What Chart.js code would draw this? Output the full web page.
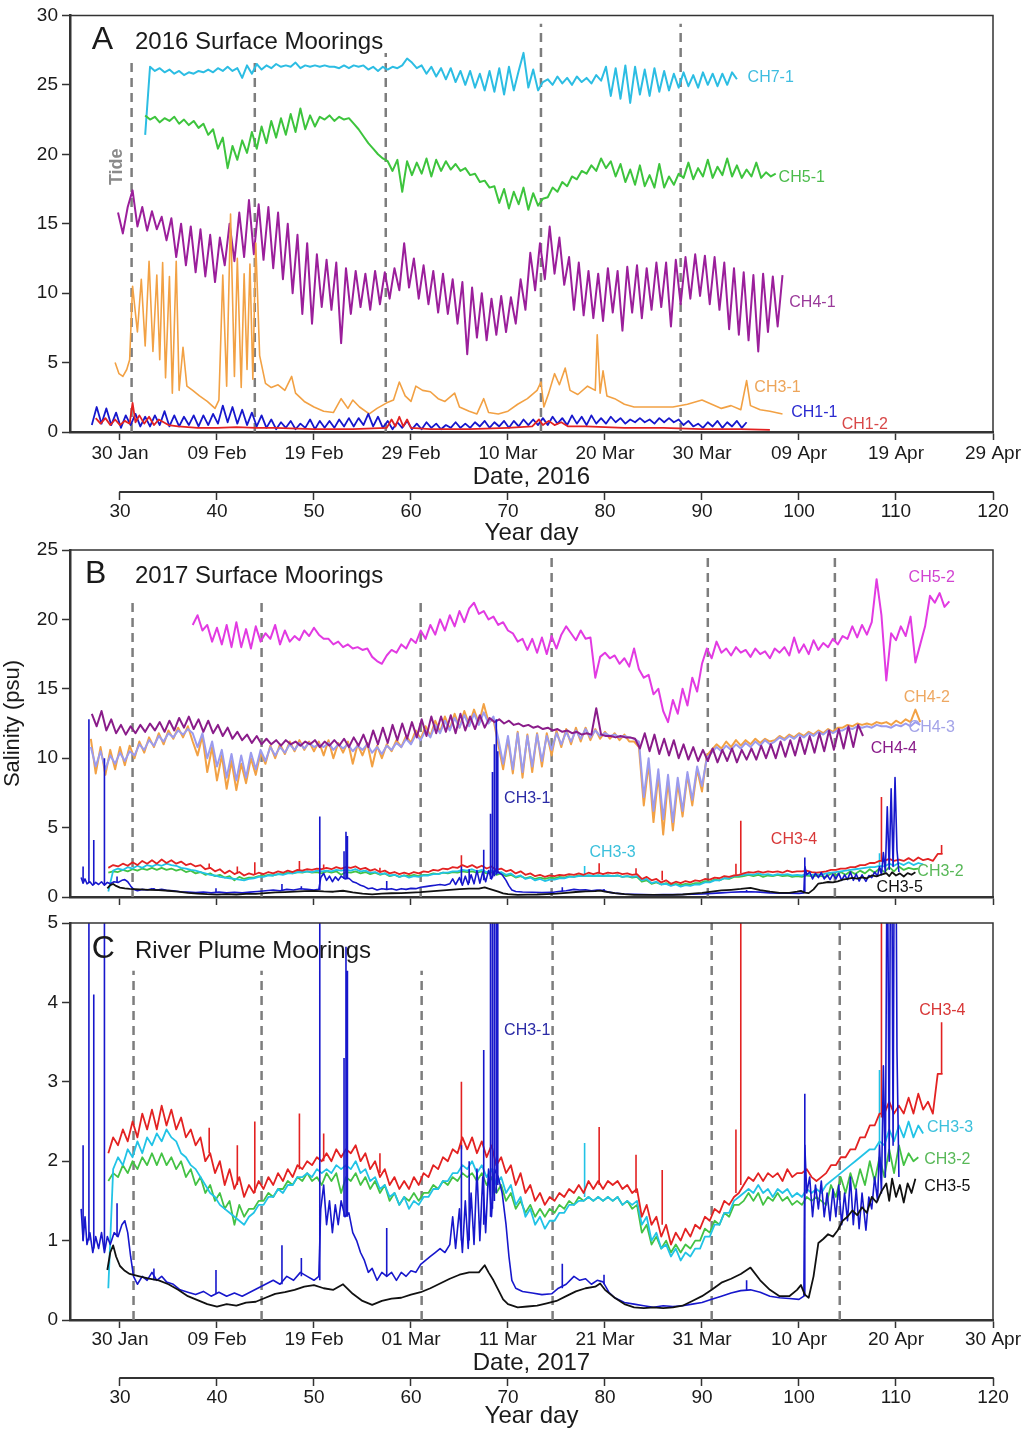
<!DOCTYPE html>
<html>
<head>
<meta charset="utf-8">
<script src="https://cdn.jsdelivr.net/npm/chart.js@4.4.1/dist/chart.umd.min.js"></script>
<style>
  html, body { margin: 0; padding: 0; background: #fff; }
  #page { position: relative; width: 1029px; height: 1432px; overflow: hidden; background: #fff; }
  #page canvas { position: absolute; left: 0; }
</style>
</head>
<body>
<div id="page">
  <canvas id="panelA" width="1029" height="550" style="top:0"></canvas>
  <canvas id="panelB" width="1029" height="390" style="top:530px"></canvas>
  <canvas id="panelC" width="1029" height="527" style="top:905px"></canvas>
</div>
<script>
'use strict';

/* ---- axis labels ---- */
const yearDays = [30, 40, 50, 60, 70, 80, 90, 100, 110, 120];
const dates2016 = ['30 Jan', '09 Feb', '19 Feb', '29 Feb', '10 Mar', '20 Mar', '30 Mar', '09 Apr', '19 Apr', '29 Apr'];
const dates2017 = ['30 Jan', '09 Feb', '19 Feb', '01 Mar', '11 Mar', '21 Mar', '31 Mar', '10 Apr', '20 Apr', '30 Apr'];
const ticksA = [0, 5, 10, 15, 20, 25, 30];
const ticksB = [0, 5, 10, 15, 20, 25];
const ticksC = [0, 1, 2, 3, 4, 5];

/* ---- tide markers (year day, top of dashed line) ---- */
const tideDayA = [31.2, 43.9, 57.4, 73.4, 87.8];
const tideTopA = [27.0, 27.0, 27.3, 29.4, 29.4];
const tideDayB = [31.3, 44.6, 61.0, 74.5, 90.6, 103.7];
const tideTopB = [21.6, 21.6, 21.6, 24.8, 24.8, 24.8];
const tideDayC = [31.4, 44.6, 61.1, 74.6, 91.0, 104.2];
const tideTopC = [4.4, 4.4, 4.4, 5, 5, 5];

/* ---- 2016 moorings: half-day samples (tidal high / low) ---- */
const ch71Start = 32.6;
const ch71Sal = [21.4,
  26.3,26.0,26.2,25.9,26.1,25.8,26.0,25.7,25.9,25.8,26.0,25.9,26.1,25.9,26.2,26.0,26.3,26.0,26.2,25.5,26.4,25.8,26.5,26.1,
  26.4,26.2,26.5,26.3,26.4,26.3,26.6,26.2,26.4,26.3,26.4,26.3,26.4,26.3,26.3,26.2,26.4,26.2,26.4,26.3,26.4,26.1,26.3,26.0,26.3,26.1,26.3,26.2,
  26.4,26.9,26.6,26.2,
  26.4,25.8,26.3,25.6,26.2,25.4,26.2,25.2,26.0,25.0,26.0,24.8,25.8,24.6,26.0,24.5,
  26.2,24.3,26.3,24.6,26.0,27.3,24.8,26.1,24.6,25.2,
  25.4,25.0,25.6,25.1,25.5,25.0,25.6,25.2,25.5,25.1,25.7,25.3,
  26.3,24.2,26.2,24.0,26.4,23.7,26.3,24.3,26.1,24.2,26.2,24.5,26.0,24.6,
  25.8,24.8,25.9,24.9,25.7,24.8,25.9,25.0,25.8,24.9,25.8,25.0,25.9,25.4];

const ch51Start = 32.6;
const ch51Sal = [22.8,22.5,22.7,22.3,22.6,22.4,22.7,22.2,22.5,22.1,22.4,21.9,22.2,
  21.4,21.8,20.4,21.2,19.0,20.6,
  19.6,21.0,20.1,21.6,20.4,22.0,
  20.8,22.4,21.2,22.6,21.4,22.9,21.6,23.3,21.8,22.8,22.0,22.7,
  22.5,22.8,22.4,22.7,22.5,22.6,
  22.2,21.8,21.3,20.8,20.4,20.0,19.7,19.5,
  18.8,19.6,17.3,19.5,18.5,19.4,18.6,19.7,18.4,19.6,18.8,19.5,18.9,19.3,
  18.8,19.0,18.5,18.6,18.0,18.1,17.6,17.7,
  16.5,17.5,16.1,17.3,16.4,17.6,16.0,17.2,16.3,16.8,
  16.9,17.6,17.3,18.0,17.7,18.4,18.2,18.8,18.6,19.2,18.8,19.7,19.0,19.5,
  18.4,19.3,18.0,18.9,17.8,19.2,17.7,18.5,17.6,19.3,17.6,18.4,17.8,18.6,
  18.3,19.4,18.2,19.0,18.4,19.6,18.3,19.1,18.5,19.7,18.4,19.2,18.3,18.9,18.4,19.4,18.3,18.7,18.4,18.6];

const ch41Start = 29.8;
const ch41Sal = [15.8,14.3,16.2,17.4,
  14.8,16.2,14.5,15.9,14.6,15.5,13.8,15.4,
  12.6,15.0,12.0,14.8,11.5,14.6,11.2,14.2,10.8,14.0,
  12.0,15.0,12.3,15.8,
  12.6,16.7,12.8,16.4,12.4,16.2,11.8,15.8,11.0,15.0,
  10.0,14.2,8.5,13.6,7.8,12.8,9.0,12.4,8.8,12.2,
  6.4,11.8,8.5,11.6,9.0,11.4,8.8,11.6,9.2,11.5,
  9.6,11.8,10.2,13.6,
  10.4,12.5,9.6,12.0,9.2,11.6,8.6,11.4,8.5,11.0,7.8,10.8,5.6,10.4,
  6.8,10.0,6.6,9.6,7.0,9.8,7.2,9.7,7.8,11.0,8.8,12.9,
  10.2,13.6,11.0,14.8,11.4,14.0,10.6,12.6,
  8.8,12.2,8.4,11.6,8.2,11.4,
  8.0,11.8,8.6,11.6,7.3,11.9,8.6,12.0,8.2,11.8,8.8,12.2,9.0,12.2,7.6,12.4,9.2,12.6,
  9.6,12.8,9.8,12.7,9.2,12.6,8.8,12.2,
  7.4,11.8,7.0,11.5,6.6,11.3,
  5.8,11.4,7.2,11.2,7.6,11.3];

const ch11Start = 27.1;
const ch11Sal = [0.5,1.8,0.6,1.7,
  0.5,1.4,0.3,1.2,0.5,1.3,0.4,1.1,0.4,1.2,0.5,1.5,0.4,1.2,0.4,1.1,0.5,1.2,0.4,1.2,0.5,1.3,
  0.6,1.9,0.7,1.8,0.6,1.6,0.5,1.4,0.4,1.2,
  0.3,0.9,0.2,0.7,0.3,0.8,0.2,0.6,0.3,0.9,0.2,0.8,0.3,0.8,0.3,0.9,0.4,1.0,0.4,1.0,
  0.5,1.3,0.4,1.1,
  0.3,0.8,0.2,0.7,0.3,0.8,0.2,0.6,0.2,0.7,0.3,0.6,0.2,0.5,0.3,0.7,0.3,0.6,0.3,0.7,
  0.4,0.8,0.3,0.7,0.4,0.8,0.3,0.8,0.4,0.9,0.5,0.9,0.5,1.0,
  0.5,1.1,0.6,1.0,0.5,1.2,0.6,1.1,0.5,1.2,0.6,1.0,0.6,1.1,
  0.7,1.0,0.6,0.9,0.7,1.0,0.7,0.9,0.6,1.0,0.7,1.0,0.7,0.9,
  0.5,0.8,0.4,0.6,0.3,0.7,0.4,0.8,0.3,0.7,0.4,0.8,0.3,0.7];

/* ---- 2016 moorings: irregular samples ---- */
const ch31aDay = [29.5,29.9,30.3,30.7,31.0,31.3,31.8,32.2,32.6,33.0,33.4,33.8,34.1,34.4,34.7,35.1,35.4,35.8,36.1,36.5,
  36.9,37.5,38.2,39.0,39.8,40.2,40.6,41.0,41.4,41.8,42.1,42.5,42.8,43.1,43.4,43.7,44.0,44.4,45.0,45.6,
  46.3,47.0,47.7,48.1,49.0,50.0,51.0,52.0,52.8,53.5,54.0,54.7,55.7,56.5,57.5,58.2,58.8,59.4,60.0,60.5,
  61.2,62.0,62.8,63.5,64.5,65.0,66.0,66.8,67.5,68.0,69.0,70.0,71.0,72.0,73.0,73.4,73.7,74.2,74.8,75.3,
  75.9,76.4,77.2,78.2,79.0,79.2,79.5,79.8,80.2,81.0,82.0,83.0,85.0,87.0,88.5,90.0,91.0,92.0,93.0,94.0,
  94.6,95.0,96.0,97.0,98.3];
const ch31aSal = [5.0,4.2,4.0,4.5,5.2,10.5,7.2,11.0,6.2,12.3,5.8,11.3,5.2,12.2,3.9,11.2,2.8,12.3,3.0,6.1,
  3.3,3.0,2.6,2.2,1.7,2.3,11.3,3.3,15.7,4.0,12.5,3.2,11.4,4.5,12.1,3.8,13.6,5.5,3.5,3.2,
  3.4,3.0,4.0,2.8,2.2,1.8,1.5,1.4,2.4,1.7,2.3,1.8,1.3,1.7,2.1,2.3,3.6,2.6,2.2,3.3,
  3.0,2.9,2.4,2.2,2.8,1.8,1.5,1.3,2.4,1.4,1.3,1.5,2.0,2.4,3.0,3.6,1.8,2.8,4.2,3.4,
  4.6,3.0,2.7,3.3,3.0,7.0,2.8,4.4,2.6,2.4,2.0,1.8,1.8,1.8,2.0,2.3,2.0,1.7,1.9,1.6,
  3.7,1.9,1.6,1.5,1.3];

const ch12Day = [27.5,28.0,28.5,29.0,29.5,30.0,30.5,31.0,31.3,31.6,32.0,32.5,33.0,33.5,34.0,35.0,36.0,38.0,40.0,42.0,
  44.0,46.0,50.0,54.0,57.5,58.0,58.4,58.8,59.2,59.6,60.0,62.0,66.0,70.0,72.5,73.2,73.6,74.2,74.8,75.5,
  76.2,78.0,82.0,86.0,90.0,94.0,97.0];
const ch12Sal = [1.0,0.6,1.0,0.5,0.9,0.5,0.8,0.6,2.1,0.7,1.2,0.6,1.1,0.5,0.9,0.5,0.4,0.3,0.3,0.35,
  0.3,0.3,0.2,0.2,0.3,0.9,0.4,1.1,0.4,0.9,0.3,0.2,0.2,0.3,0.4,0.9,0.5,0.8,0.5,0.7,
  0.4,0.4,0.3,0.3,0.2,0.2,0.15];

/* ---- 2017 surface moorings: half-day samples ---- */
const ch52Start = 37.5;
const ch52Sal = [19.6,20.3,19.2,19.6,18.4,19.4,18.2,19.6,18.0,19.8,18.0,19.3,17.9,19.5,18.4,
  19.0,18.6,19.6,18.2,19.2,18.4,
  18.8,18.5,19.2,18.8,19.4,18.9,
  18.6,18.6,18.2,18.4,18.0,18.2,17.9,18.0,17.8,17.9,
  17.3,17.0,16.8,17.4,
  17.8,17.6,18.2,17.9,18.6,18.3,
  19.2,18.6,19.6,18.9,20.0,19.2,20.3,19.5,20.6,19.8,20.8,21.2,
  20.4,20.6,20.0,20.2,19.6,19.8,
  19.2,19.0,18.4,18.6,
  17.8,18.6,17.6,18.7,17.5,18.8,17.9,18.9,
  19.5,19.0,18.5,19.2,18.6,18.7,
  15.8,17.3,17.6,17.2,
  17.4,16.8,17.2,16.6,17.9,16.4,
  15.8,16.0,14.6,15.0,13.4,12.6,
  14.2,13.2,15.0,13.8,15.8,14.8,16.8,17.9,
  17.2,18.4,17.6,17.9,17.4,18.0,17.6,17.8,17.3,17.9,17.5,17.7,17.2,17.9,17.6,18.0,
  17.4,18.7,17.6,18.2,17.5,18.5,17.8,18.3,18.0,18.6,18.2,18.8,
  18.6,19.5,18.7,19.6,18.9,19.8,
  22.9,20.3,15.6,19.0,
  18.5,19.5,18.8,20.2,
  16.9,18.2,19.5,21.7,
  21.2,21.9,20.9,21.3];

const ch44Start = 27.1;
const ch44Sal = [13.2,12.3,13.4,12.0,12.8,11.8,12.4,
  11.7,12.3,11.8,12.4,11.9,12.5,12.0,12.6,
  11.9,12.7,12.0,12.9,12.2,13.0,12.1,12.8,11.9,12.7,11.8,12.4,
  11.6,12.2,11.4,11.9,11.3,11.7,11.1,11.6,11.0,11.4,
  11.0,11.3,10.9,11.3,11.0,11.2,10.9,11.2,11.0,11.3,10.8,11.2,10.9,11.3,10.9,11.4,10.8,11.5,10.9,11.7,
  10.8,12.0,11.0,12.2,11.1,12.4,11.3,12.5,11.4,12.6,
  11.5,12.8,11.6,13.0,11.8,13.0,11.9,13.1,11.8,13.2,12.0,13.0,12.1,13.1,12.2,12.9,
  12.6,12.8,12.5,12.7,12.4,12.5,12.3,12.4,12.2,12.3,12.1,12.2,12.0,12.1,11.9,12.0,11.8,11.9,11.7,11.8,
  11.7,13.6,11.7,
  11.6,11.6,11.5,11.6,11.5,11.5,11.4,
  10.7,11.8,10.5,11.7,10.3,11.4,10.2,11.3,10.0,11.0,9.9,10.8,9.8,10.6,
  9.8,10.7,9.7,10.6,9.8,10.7,9.7,10.6,9.9,10.7,
  9.9,10.9,10.0,11.0,10.0,11.2,10.1,11.3,10.2,11.5,10.3,11.6,10.4,11.8,10.5,12.0,10.6,12.1,10.7,12.3,10.8,12.4,11.6];

const ch43Start = 27.0;
const ch43Sal = [10.8,9.4,10.5,9.2,10.2,9.6,10.4,9.8,10.5,
  10.2,11.0,10.6,11.3,10.9,11.6,11.2,11.8,
  11.5,12.0,11.7,12.1,11.8,
  10.8,11.8,10.0,11.2,9.4,
  10.6,8.6,10.3,8.4,10.2,8.6,
  10.4,9.2,10.6,9.8,10.8,10.2,
  10.8,10.4,11.0,10.6,11.1,10.7,11.1,10.8,
  11.0,10.8,11.1,10.6,11.0,10.7,11.0,10.5,10.9,10.6,11.0,10.4,10.8,10.3,
  10.9,10.6,11.1,10.8,11.4,11.0,11.7,11.3,
  12.0,11.5,12.4,11.8,12.7,12.0,12.9,12.2,13.1,12.3,13.2,12.4,13.3,12.5,13.0,
  11.4,9.6,11.6,
  9.2,11.8,9.0,11.6,9.4,11.7,9.8,11.6,
  10.6,11.8,11.0,11.9,11.2,12.0,11.4,12.1,11.5,12.0,
  11.6,11.8,11.6,11.7,11.5,11.6,11.5,11.4,11.2,
  7.2,10.0,6.2,9.2,5.6,
  8.8,5.4,8.6,6.2,9.0,7.0,9.4,8.0,10.0,
  10.4,10.8,10.5,10.9,10.6,11.0,10.7,11.1,10.8,11.2,10.9,11.3,11.0,
  11.2,11.5,11.3,11.6,11.4,11.7,11.5,11.8,11.6,11.9,11.7,12.0,11.8,12.0,
  12.0,12.2,12.1,12.3,12.2,12.3,
  12.2,12.4,12.3,12.3,12.2,12.4,12.3,12.5,12.3,12.6,12.4];

const ch42Start = 27.0;
const ch42Sal = [11.4,8.9,10.8,8.8,10.6,9.2,10.8,9.5,10.9,
  10.0,11.2,10.4,11.5,10.8,11.8,11.0,12.0,
  11.4,12.2,11.5,12.3,11.2,
  10.2,11.6,9.0,10.8,8.4,
  10.2,7.8,9.8,7.7,9.6,8.2,
  10.0,8.8,10.4,9.6,10.9,10.0,
  11.0,10.3,11.2,10.5,11.3,10.6,11.2,10.5,
  11.2,10.2,11.3,10.0,11.1,10.4,11.2,9.6,11.0,10.2,11.1,9.4,10.9,10.0,
  11.0,10.5,11.3,10.8,11.6,11.1,12.0,11.4,
  12.3,11.6,12.7,11.9,13.0,12.1,13.2,12.2,13.4,12.4,13.5,12.5,13.9,12.6,12.8,
  11.0,9.2,11.4,
  8.9,11.9,8.6,11.7,9.0,11.8,9.4,11.8,
  10.2,12.0,10.8,12.1,11.0,12.2,11.2,12.2,11.3,12.1,
  11.4,11.9,11.4,11.8,11.3,11.7,11.2,11.2,10.8,
  6.6,9.6,5.4,8.8,4.5,
  8.4,4.8,8.2,5.8,8.8,6.6,9.2,7.6,10.2,
  10.6,11.0,10.7,11.2,10.8,11.3,10.9,11.3,11.0,11.4,11.1,11.4,11.2,
  11.3,11.6,11.4,11.7,11.5,11.8,11.6,11.9,11.7,12.0,11.8,12.1,11.9,12.2,
  12.2,12.4,12.3,12.5,12.4,12.5,
  12.4,12.6,12.5,12.6,12.4,12.7,12.5,12.8,12.6,13.5,12.6];

/* ---- 2017 river plume moorings (CH3-x), shown in panels B and C ---- */
const ch34Start = 28.8;
const ch34Sal = [2.1,2.3,2.2,2.4,2.25,2.5,2.3,2.6,2.4,2.65,
  2.4,2.7,2.45,2.65,
  2.4,2.55,2.3,2.4,2.2,2.3,
  2.0,2.1,1.85,2.0,1.7,1.9,1.65,1.8,1.55,1.7,
  1.6,1.75,1.65,1.8,1.7,1.85,1.75,1.9,1.8,1.95,
  1.9,2.0,1.95,2.05,2.0,2.1,2.0,2.15,2.05,2.15,2.1,2.2,
  2.0,2.1,1.9,2.0,1.8,1.9,
  1.7,1.8,1.65,1.75,1.65,1.8,1.7,1.85,
  1.8,1.95,1.9,2.05,2.0,2.15,
  2.1,2.3,2.15,2.3,
  2.1,2.25,2.05,2.2,1.95,2.05,
  1.85,1.95,1.7,1.85,1.6,1.7,1.5,1.6,1.45,1.55,
  1.5,1.6,1.55,1.65,1.6,1.7,1.6,1.75,1.65,1.75,
  1.65,1.75,1.7,1.75,1.65,1.7,1.6,1.65,
  1.3,1.45,1.2,1.3,1.05,1.2,
  0.95,1.1,1.0,1.15,1.05,1.2,
  1.15,1.3,1.25,1.4,1.35,1.5,1.45,1.55,1.6,
  1.7,1.8,1.75,1.85,1.75,1.85,1.8,1.85,1.75,1.9,1.8,1.85,
  1.85,1.9,1.8,1.75,1.8,
  1.85,1.95,1.95,2.05,2.05,2.15,2.15,2.3,2.3,2.45,2.45,2.6,
  2.6,2.75,2.6,2.7,2.6,
  2.8,2.6,2.85,2.65,2.75,2.6,3.1,
  3.1];
const ch34SpikeDay = [39.2, 42.1, 43.9, 48.5, 51.0, 56.8, 65.2, 79.4, 83.2, 85.9, 93.5, 94.0, 108.5, 114.7];
const ch34SpikeLo = [2.1, 1.7, 1.6, 1.9, 2.0, 1.85, 2.15, 1.7, 1.6, 1.2, 1.6, 1.7, 2.55, 3.1];
const ch34SpikeHi = [2.42, 2.2, 2.5, 2.6, 2.35, 2.1, 3.0, 2.43, 2.08, 1.89, 2.4, 5.5, 7.2, 3.75];

const ch33Start = 28.8;
const ch33Sal = [0.4,
  1.9,2.05,1.95,2.15,2.05,2.25,2.1,2.3,2.2,
  2.35,2.25,2.4,2.3,
  2.25,2.1,2.05,1.95,1.9,1.8,
  1.7,1.6,1.55,1.45,1.4,1.35,1.3,1.25,1.2,1.3,
  1.35,1.45,1.45,1.55,1.55,1.65,1.6,1.7,1.7,1.8,
  1.8,1.85,1.8,1.9,1.85,1.9,1.85,1.95,1.9,1.95,1.9,2.0,
  1.85,1.9,1.75,1.8,1.65,1.7,
  1.55,1.6,1.45,1.55,1.4,1.5,1.45,1.55,
  1.55,1.65,1.65,1.75,1.75,1.85,
  1.85,1.95,1.9,2.0,
  1.85,1.95,1.8,1.9,1.7,1.8,
  1.6,1.7,1.45,1.55,1.3,1.4,1.2,1.3,1.15,1.25,
  1.25,1.35,1.35,1.45,1.45,1.5,1.5,1.55,1.5,1.55,
  1.5,1.55,1.5,1.55,1.45,1.5,1.45,1.5,
  1.2,1.3,1.0,1.1,0.9,0.95,
  0.8,0.9,0.75,0.85,0.8,0.9,
  0.9,1.05,1.05,1.2,1.2,1.35,1.35,1.5,1.55,
  1.6,1.65,1.6,1.7,1.6,1.65,1.55,1.65,1.6,1.65,1.55,1.6,
  1.55,1.65,1.6,1.65,1.6,
  1.7,1.75,1.8,1.85,1.9,1.95,2.0,2.05,2.1,2.15,2.15,2.25,
  2.2,2.4,2.25,2.45,2.3,
  2.5,2.3,2.45,2.35];
const ch33SpikeDay = [77.9, 108.3];
const ch33SpikeLo = [1.55, 2.2];
const ch33SpikeHi = [2.23, 3.15];

const ch32Start = 28.8;
const ch32Sal = [1.75,1.85,1.8,1.95,1.85,2.0,1.9,2.05,1.95,2.1,
  1.95,2.1,1.95,2.05,
  1.9,2.0,1.8,1.9,1.7,1.8,
  1.6,1.7,1.5,1.6,1.4,1.5,1.2,1.45,1.3,1.4,
  1.4,1.5,1.5,1.6,1.55,1.65,1.65,1.75,1.7,1.8,
  1.75,1.85,1.75,1.8,1.7,1.85,1.75,1.85,1.6,1.8,1.75,1.85,
  1.7,1.8,1.65,1.75,1.6,1.7,
  1.5,1.6,1.45,1.55,1.5,1.6,1.5,1.6,
  1.6,1.7,1.65,1.75,1.7,1.8,
  1.75,1.85,1.8,1.85,
  1.75,1.85,1.7,1.8,1.6,1.7,
  1.5,1.6,1.4,1.5,1.35,1.45,1.3,1.4,1.3,1.4,
  1.35,1.45,1.4,1.5,1.45,1.55,1.5,1.55,1.5,1.55,
  1.5,1.55,1.5,1.55,1.45,1.5,1.4,1.45,
  1.1,1.2,0.95,1.05,0.9,1.0,
  0.85,0.95,0.85,0.95,0.9,1.0,
  1.0,1.15,1.1,1.25,1.2,1.35,1.3,1.45,1.45,
  1.5,1.6,1.5,1.6,1.45,1.55,1.5,1.6,1.5,1.55,1.45,1.5,
  1.45,1.55,1.5,1.55,1.5,
  1.45,1.7,1.55,1.8,1.6,1.85,1.65,1.9,1.7,2.0,1.75,2.05,
  1.8,2.15,1.85,2.2,1.95,
  2.1,2.0,2.05];

const ch35Day = [28.7,29.0,29.3,29.6,30.0,30.5,31.0,
  32,33,34,35,36,37,38,39,40,41,42,43,44,45,46,47,48,49,50,51,52,53,54,55,56,57,58,59,60,61,62,63,64,65,66,67,
  67.6,68.0,68.5,69.0,69.5,70.0,
  71,72,73,74,75,76,77,78,79,79.5,
  80,81,82,83,84,85,86,87,88,89,90,91,92,93,94,95,96,97,98,99,
  99.8,100.2,100.6,101.0,101.5,102.0,102.5,103.0,103.5,104.0,104.5,105.0,105.5,106.0,106.5,107.0,107.5,108.0,108.5,109.0,
  109.3,109.6,110.0,110.4,110.8,111.2,111.6,112.0];
const ch35Sal = [0.63,0.85,0.94,0.8,0.68,0.62,0.58,
  0.55,0.52,0.5,0.45,0.38,0.3,0.25,0.2,0.17,0.2,0.18,0.22,0.23,0.28,0.33,0.35,0.38,0.42,0.44,0.4,0.38,0.45,0.33,0.24,0.19,0.24,0.27,0.28,0.32,0.35,0.4,0.46,0.52,0.57,0.6,0.6,
  0.69,0.6,0.5,0.38,0.26,0.2,
  0.16,0.17,0.18,0.21,0.24,0.3,0.36,0.4,0.42,0.46,
  0.38,0.28,0.2,0.16,0.15,0.16,0.15,0.16,0.18,0.24,0.3,0.38,0.47,0.52,0.58,0.66,0.5,0.38,0.3,0.3,
  0.38,0.44,0.32,0.28,0.55,0.97,1.02,1.08,1.05,1.13,1.25,1.3,1.38,1.32,1.42,1.35,1.55,1.48,1.62,1.72,
  1.5,1.78,1.55,1.7,1.48,1.72,1.6,1.78];

const ch31bDay = [26.0,26.2,26.4,26.6,26.9,27.2,27.5,27.8,28.1,28.4,28.7,29.0,29.4,29.8,30.2,30.5,30.8,31.1,31.4,31.8,
  32.3,32.8,33.3,33.8,34.3,34.8,35.5,36.2,37.0,37.8,38.6,39.4,40.2,41.0,41.8,42.6,43.4,44.2,45.0,45.8,
  46.5,47.2,47.9,48.6,49.3,50.0,50.5,50.7,51.0,51.3,51.6,51.9,52.2,52.5,52.8,53.2,53.6,54.0,54.4,54.8,
  55.2,55.6,56.0,56.5,57.0,57.5,58.0,58.5,59.0,59.5,60.0,60.5,61.0,61.5,62.0,62.5,63.0,63.5,64.0,64.3,
  64.6,65.0,65.3,65.6,65.9,66.2,66.5,66.8,67.1,67.4,67.7,68.0,68.3,68.6,69.0,69.4,69.8,70.1,70.4,70.8,
  71.5,72.5,73.5,74.5,75.2,76.0,76.8,77.4,78.0,78.6,79.2,79.8,80.4,81.0,82.0,83.0,84.0,85.0,86.0,87.0,
  88.0,89.0,90.0,91.0,92.0,93.0,94.0,95.0,96.0,97.0,98.0,99.0,100.0,100.5,100.6,100.8,101.1,101.4,101.7,102.0,
  102.3,102.6,102.9,103.2,103.5,103.8,104.1,104.4,104.7,105.0,105.3,105.6,105.9,106.2,106.5,106.9,107.2,107.5,107.8,108.1,
  108.3,108.5,108.7,108.9,109.1,109.3,109.5,109.7,109.9,110.1,110.3];
const ch31bSal = [1.4,1.0,1.3,0.95,1.1,0.85,1.05,0.9,1.1,0.85,1.05,0.95,1.1,1.05,1.2,1.25,1.1,0.8,0.55,0.45,
  0.55,0.5,0.6,0.5,0.55,0.48,0.45,0.38,0.35,0.32,0.36,0.3,0.35,0.3,0.34,0.3,0.35,0.4,0.45,0.5,
  0.45,0.55,0.5,0.6,0.55,0.5,0.55,1.4,1.7,1.2,1.5,1.1,1.45,1.2,1.5,1.3,1.35,1.1,1.0,0.85,
  0.75,0.6,0.65,0.5,0.6,0.55,0.6,0.5,0.6,0.55,0.62,0.6,0.7,0.75,0.8,0.85,0.9,0.85,0.95,1.3,
  0.9,1.4,0.85,1.5,0.9,1.6,0.95,1.9,1.0,1.8,1.1,1.9,1.3,1.9,1.8,1.6,1.2,0.8,0.5,0.4,
  0.36,0.34,0.32,0.33,0.4,0.45,0.55,0.5,0.52,0.45,0.5,0.48,0.35,0.28,0.22,0.2,0.18,0.16,0.18,0.17,
  0.18,0.2,0.22,0.26,0.3,0.34,0.37,0.38,0.35,0.3,0.28,0.27,0.26,0.3,2.2,1.6,1.8,1.3,1.7,1.4,
  1.75,1.3,1.6,1.25,1.65,1.3,1.7,1.2,1.6,1.25,1.8,1.2,1.65,1.15,1.6,1.13,1.55,1.4,1.8,1.5,
  2.2,1.6,3.2,1.8,6.5,2.0,7.8,2.2,8.6,3.4,1.8];
const ch31bSpikeDay = [26.2,26.8,27.3,28.4,29.7,33.5,39.9,46.7,48.7,50.6,53.1,53.3,53.45,57.5,65.2,66.0,67.5,68.2,68.4,68.6,68.8,68.95,75.6,79.9,94.6,100.6];
const ch31bSpikeLo = [1.0,1.0,0.9,0.9,1.05,0.5,0.33,0.45,0.55,0.5,1.3,1.3,1.3,0.55,1.0,1.0,1.2,1.3,1.4,1.5,1.6,1.7,0.4,0.45,0.37,0.3];
const ch31bSpikeHi = [2.2,12.8,4.1,10.0,1.47,0.65,0.63,0.94,0.78,5.8,3.3,4.7,4.4,1.16,2.2,2.0,3.4,6.0,9.0,11.0,12.8,10.5,0.71,0.57,0.5,2.85];

/* ---- style ---- */
const FONT = "'Liberation Sans', Arial, Helvetica, sans-serif";
const INK = '#1a1a1a';
const AXIS = '#333';
const TIDE = '#7d7d7d';
const DAY_MIN = 24.85, DAY_MAX = 120;
const COL = {
  ch71: '#2cbde3', ch51: '#3dc43d', ch41: '#9b1f9b', orange: '#f2a144', blue: '#1717cc', red: '#e32222',
  ch52: '#e23ae2', ch43: '#9b9bee', ch44: '#8a1c8a', ch32: '#44c244', ch33: '#22c3e6', ch35: '#111'
};

Chart.defaults.font.family = FONT;
Chart.defaults.color = INK;

/* ---- dataset helpers ---- */
const halfDay = (start, vals) => vals.map((v, i) => ({ x: start + i * 0.5, y: v }));
const paired = (days, vals) => days.map((d, i) => ({ x: d, y: vals[i] }));
const spikes = (days, lo, hi) => days.flatMap((d, i) => [{ x: d, y: lo[i] }, { x: d, y: hi[i] }, { x: d, y: null }]);
const verticals = (days, tops) => days.flatMap((d, i) => [{ x: d, y: 0 }, { x: d, y: tops[i] }, { x: d, y: null }]);

function line(data, color, width) {
  return {
    data, borderColor: color, borderWidth: width || 2, pointRadius: 0, tension: 0,
    fill: false, spanGaps: false, borderJoinStyle: 'round', xAxisID: 'x', yAxisID: 'y'
  };
}
const dashed = (data) => ({ ...line(data, TIDE, 2.5), borderDash: [9, 6], borderJoinStyle: 'miter' });

/** The five CH3-x river plume series (shared by panels B and C), top-most first. */
function plumeSets() {
  return [
    line(paired(ch35Day, ch35Sal), COL.ch35, 1.8),
    line(paired(ch31bDay, ch31bSal), COL.blue, 1.6),
    line(spikes(ch31bSpikeDay, ch31bSpikeLo, ch31bSpikeHi), COL.blue, 1.6),
    line(halfDay(ch34Start, ch34Sal), COL.red, 1.8),
    line(spikes(ch34SpikeDay, ch34SpikeLo, ch34SpikeHi), COL.red, 1.6),
    line(halfDay(ch33Start, ch33Sal), COL.ch33, 1.8),
    line(spikes(ch33SpikeDay, ch33SpikeLo, ch33SpikeHi), COL.ch33, 1.6),
    line(halfDay(ch32Start, ch32Sal), COL.ch32, 1.8)
  ];
}

/* ---- plugins ---- */
const frame = {
  id: 'frame',
  afterDatasetsDraw(chart) {
    const { ctx, chartArea: a } = chart;
    ctx.save();
    ctx.strokeStyle = AXIS;
    ctx.lineWidth = 1.5;
    ctx.beginPath();
    ctx.moveTo(a.left, a.top);
    ctx.lineTo(a.right, a.top);
    ctx.lineTo(a.right, a.bottom);
    ctx.stroke();
    ctx.restore();
  }
};

/** Year-day axis line starts at the first year-day tick, not at the plot edge. */
const yearDayLine = {
  id: 'yearDayLine',
  afterDraw(chart) {
    const s = chart.scales.xd;
    if (!s || !s.options.display) return;
    const { ctx } = chart;
    ctx.save();
    ctx.strokeStyle = AXIS;
    ctx.lineWidth = 2;
    ctx.beginPath();
    ctx.moveTo(s.getPixelForValue(yearDays[0]) - 0.75, s.top);
    ctx.lineTo(s.right + 0.75, s.top);
    ctx.stroke();
    ctx.restore();
  }
};

/** Panel letters, titles and series names placed in data coordinates. */
function annotate(labels) {
  return {
    id: 'annotate',
    afterDraw(chart) {
      const { ctx, scales: { x, y } } = chart;
      labels.forEach((t) => {
        ctx.save();
        ctx.font = `${t.weight || 'normal'} ${t.size || 16}px ${FONT}`;
        ctx.fillStyle = t.color || INK;
        ctx.textAlign = t.rotate ? 'center' : 'left';
        ctx.textBaseline = t.base || 'middle';
        ctx.translate(x.getPixelForValue(t.day), y.getPixelForValue(t.val));
        if (t.rotate) ctx.rotate(-Math.PI / 2);
        ctx.fillText(t.text, 0, 0);
        ctx.restore();
      });
    }
  };
}

/* ---- panel builder ---- */
function panel(id, o) {
  const dayTicks = (s) => { s.ticks = yearDays.map((v) => ({ value: v })); };
  const tickGrid = { drawOnChartArea: false, drawTicks: true, tickLength: 8, tickWidth: 1.5, tickColor: AXIS };
  const title = (text, pb) => (text
    ? { display: true, text, color: INK, font: { size: 24 }, padding: { top: 0, bottom: pb } }
    : { display: false });
  return new Chart(document.getElementById(id), {
    type: 'line',
    data: { datasets: o.datasets },
    options: {
      responsive: false, animation: false, events: [],
      layout: { padding: { top: o.padTop, right: 36, bottom: 0, left: 0 } },
      plugins: { legend: { display: false }, tooltip: { enabled: false } },
      scales: {
        x: {
          type: 'linear', position: 'bottom', min: DAY_MIN, max: DAY_MAX,
          afterBuildTicks: dayTicks, afterFit: (s) => { s.height = o.dateHeight; },
          grid: tickGrid, border: { display: true, color: AXIS, width: 2.5 },
          ticks: {
            color: INK, font: { size: 19 }, padding: o.datePad || 0, maxRotation: 0, autoSkip: false,
            callback: (v, i) => (o.dateLabels ? o.dateLabels[i] : '')
          },
          title: title(o.dateTitle, 0)
        },
        xd: {
          type: 'linear', position: 'bottom', display: !!o.yearHeight, min: DAY_MIN, max: DAY_MAX,
          afterBuildTicks: dayTicks, afterFit: (s) => { s.height = o.yearHeight; },
          grid: tickGrid, border: { display: false },
          ticks: { color: INK, font: { size: 19 }, padding: 0, maxRotation: 0, autoSkip: false },
          title: title('Year day', o.yearPad || 1)
        },
        y: {
          type: 'linear', min: 0, max: o.yTicks[o.yTicks.length - 1],
          afterBuildTicks: (s) => { s.ticks = o.yTicks.map((v) => ({ value: v })); },
          afterFit: (s) => { s.width = 70; },
          grid: tickGrid, border: { display: true, color: AXIS, width: 2.5 },
          ticks: { color: INK, font: { size: 19 }, padding: 4 },
          title: o.yTitle
            ? { display: true, text: o.yTitle, color: INK, font: { size: 22 }, padding: { top: 0, bottom: 0 } }
            : { display: false }
        }
      }
    },
    plugins: [frame, yearDayLine, annotate(o.labels)]
  });
}

/* ---- A: 2016 surface moorings ---- */
panel('panelA', {
  padTop: 15, yTicks: ticksA, dateLabels: dates2016, dateTitle: 'Date, 2016',
  dateHeight: 60, datePad: 2, yearHeight: 58, yearPad: 2,
  datasets: [
    line(paired(ch12Day, ch12Sal), COL.red, 1.8),
    line(halfDay(ch11Start, ch11Sal), COL.blue, 1.8),
    line(paired(ch31aDay, ch31aSal), COL.orange, 1.6),
    line(halfDay(ch41Start, ch41Sal), COL.ch41, 2),
    line(halfDay(ch51Start, ch51Sal), COL.ch51, 2),
    line(halfDay(ch71Start, ch71Sal), COL.ch71, 2),
    dashed(verticals(tideDayA, tideTopA))
  ],
  labels: [
    { text: 'A', day: 27.1, val: 27.6, size: 32, base: 'alphabetic' },
    { text: '2016 Surface Moorings', day: 31.55, val: 27.6, size: 24, base: 'alphabetic' },
    { text: 'Tide', day: 29.7, val: 19.1, size: 18, weight: 'bold', color: '#8a8a8a', rotate: true },
    { text: 'CH7-1', day: 94.7, val: 25.5, color: '#3ebde0' },
    { text: 'CH5-1', day: 97.9, val: 18.3, color: '#4cbc4c' },
    { text: 'CH4-1', day: 99.0, val: 9.3, color: '#9a3a9a' },
    { text: 'CH3-1', day: 95.4, val: 3.2, color: '#eda55a' },
    { text: 'CH1-1', day: 99.2, val: 1.4, color: '#2a2ad0' },
    { text: 'CH1-2', day: 104.4, val: 0.5, color: '#d84848' }
  ]
});

/* ---- B: 2017 surface moorings ---- */
panel('panelB', {
  padTop: 20, yTicks: ticksB, dateLabels: null, dateTitle: null,
  dateHeight: 23, yearHeight: 0, yTitle: 'Salinity (psu)',
  datasets: [
    ...plumeSets(),
    line(halfDay(ch44Start, ch44Sal), COL.ch44, 2),
    line(halfDay(ch43Start, ch43Sal), COL.ch43, 2),
    line(halfDay(ch42Start, ch42Sal), COL.orange, 2),
    line(halfDay(ch52Start, ch52Sal), COL.ch52, 2),
    dashed(verticals(tideDayB, tideTopB))
  ],
  labels: [
    { text: 'B', day: 26.4, val: 22.6, size: 32, base: 'alphabetic' },
    { text: '2017 Surface Moorings', day: 31.55, val: 22.6, size: 24, base: 'alphabetic' },
    { text: 'CH5-2', day: 111.3, val: 23.0, color: '#d243d2' },
    { text: 'CH4-2', day: 110.8, val: 14.4, color: '#eea862' },
    { text: 'CH4-3', day: 111.3, val: 12.2, color: '#a3a3e8' },
    { text: 'CH4-4', day: 107.4, val: 10.7, color: '#8a1c8a' },
    { text: 'CH3-1', day: 69.6, val: 7.1, color: '#2a2aa6' },
    { text: 'CH3-3', day: 78.4, val: 3.2, color: '#3cc0dc' },
    { text: 'CH3-4', day: 97.1, val: 4.1, color: '#d83838' },
    { text: 'CH3-2', day: 112.2, val: 1.8, color: '#58b858' },
    { text: 'CH3-5', day: 108.0, val: 0.65, color: '#111' }
  ]
});

/* ---- C: river plume moorings ---- */
panel('panelC', {
  padTop: 18, yTicks: ticksC, dateLabels: dates2017, dateTitle: 'Date, 2017',
  dateHeight: 58, datePad: 0, yearHeight: 54, yearPad: 1,
  datasets: [...plumeSets(), dashed(verticals(tideDayC, tideTopC))],
  labels: [
    { text: 'C', day: 27.1, val: 4.56, size: 32, base: 'alphabetic' },
    { text: 'River Plume Moorings', day: 31.55, val: 4.56, size: 24, base: 'alphabetic' },
    { text: 'CH3-1', day: 69.6, val: 3.65, color: '#2a2aa6' },
    { text: 'CH3-4', day: 112.4, val: 3.9, color: '#d83838' },
    { text: 'CH3-3', day: 113.2, val: 2.42, color: '#3cc0dc' },
    { text: 'CH3-2', day: 112.9, val: 2.02, color: '#58b858' },
    { text: 'CH3-5', day: 112.9, val: 1.68, color: '#111' }
  ]
});
</script>
</body>
</html>
